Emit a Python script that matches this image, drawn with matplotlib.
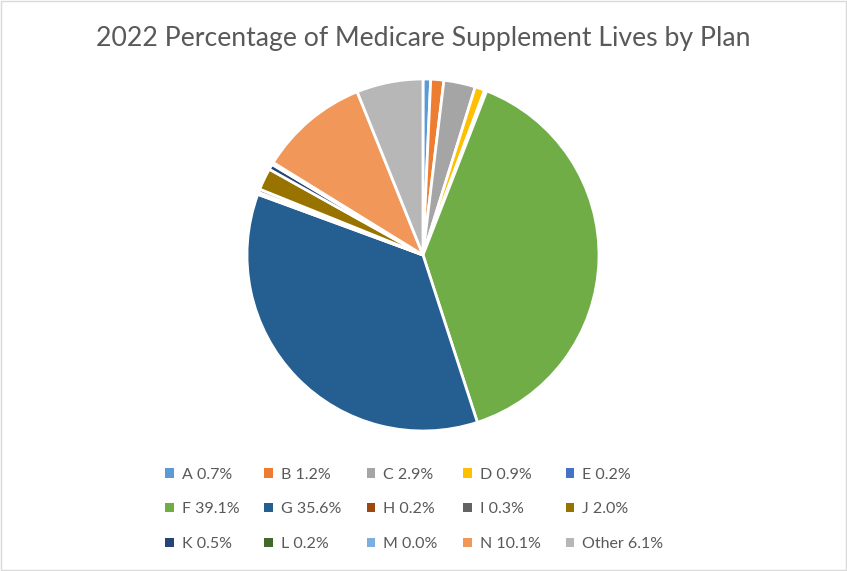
import matplotlib.pyplot as plt
from matplotlib.patches import Patch, Rectangle

plt.rcParams['font.family'] = ['Lato', 'DejaVu Sans']

# Plan labels and share of lives (%)
plans = ['A', 'B', 'C', 'D', 'E', 'F', 'G', 'H', 'I', 'J', 'K', 'L', 'M', 'N', 'Other']
shares = [0.7, 1.2, 2.9, 0.9, 0.2, 39.1, 35.6, 0.2, 0.3, 2.0, 0.5, 0.2, 0.0, 10.1, 6.1]
colors = ['#5B9BD5', '#ED7D31', '#A5A5A5', '#FFC000', '#4472C4', '#70AD47',
          '#255E91', '#9E480E', '#636363', '#997300', '#264478', '#43682B',
          '#7CAFDD', '#F1975A', '#B7B7B7']

fig = plt.figure(figsize=(8.47, 5.71), dpi=100)
fig.patches.append(Rectangle((0.0006, 0.001), 0.9982, 0.997, transform=fig.transFigure,
                             fill=False, edgecolor='#D9D9D9', linewidth=1))

ax = fig.add_axes([0.2916, 0.2452, 0.4156, 0.6165])
ax.pie(shares, colors=colors, startangle=90, counterclock=False,
       wedgeprops=dict(edgecolor='white', linewidth=2))
ax.set_xlim(-1, 1)
ax.set_ylim(-1, 1)
ax.set_aspect('equal')

fig.text(0.4994, 0.933, '2022 Percentage of Medicare Supplement Lives by Plan',
         ha='center', va='center', fontsize=19.2, color='#595959')

# legend, row-major order
handles = [Patch(facecolor=c, edgecolor='none') for c in colors]
labels = [f'{p} {s:.1f}%' for p, s in zip(plans, shares)]
order = [r * 5 + c for c in range(5) for r in range(3)]
fig.legend([handles[i] for i in order], [labels[i] for i in order],
           ncol=5, loc='center', bbox_to_anchor=(0.489, 0.108), frameon=False,
           fontsize=11.5, labelcolor='#595959', handlelength=0.55, handleheight=0.55,
           handletextpad=0.5, columnspacing=1.57, labelspacing=1.3)

fig.savefig('out.png', dpi=100)
